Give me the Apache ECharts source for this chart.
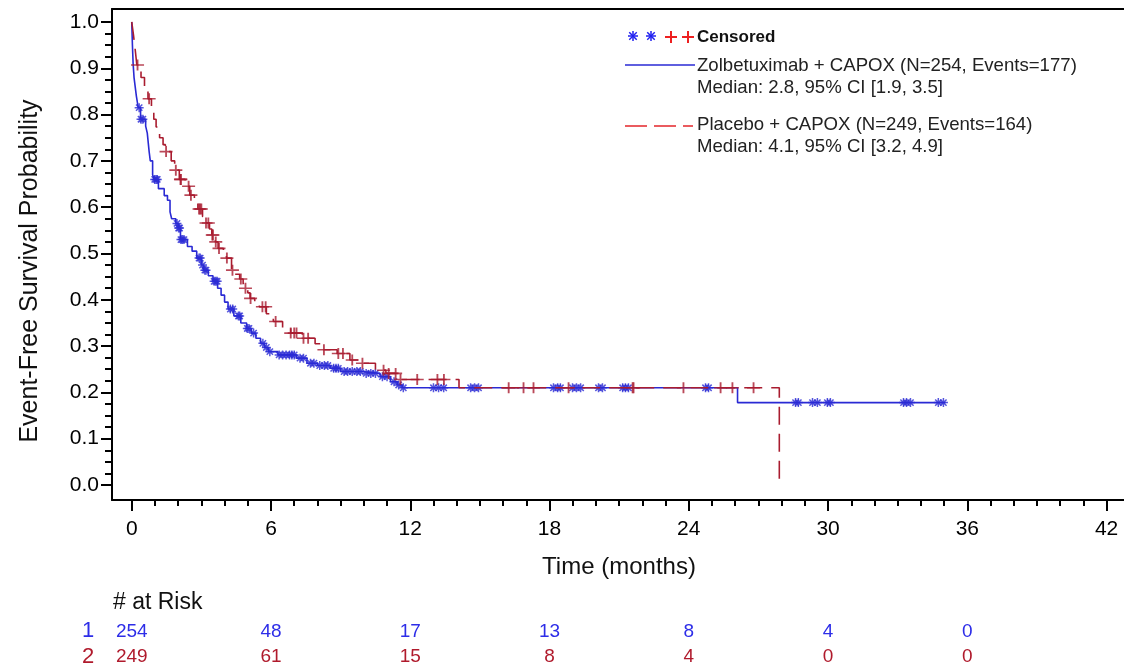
<!DOCTYPE html>
<html>
<head>
<meta charset="utf-8">
<script src="https://cdn.jsdelivr.net/npm/echarts@6/dist/echarts.min.js"></script>
<style>
html,body{margin:0;padding:0;background:#fff;}
#chart{width:1124px;height:665px;}
</style>
</head>
<body>
<div id="chart"></div>
<script>
// ---------- DATA ----------
// Kaplan-Meier step points: time (months) and survival after the step
const zolTimes = [0,0.03,0.06,0.1,0.15,0.2,0.28,0.38,0.6,0.67,0.75,0.8,0.9,0.97,1.15,1.4,1.54,1.65,1.72,1.9,2.0,2.1,2.4,2.6,2.8,3.0,3.1,3.3,3.5,3.7,3.85,4.0,4.15,4.4,4.7,4.95,5.15,5.35,5.55,5.72,5.88,6.3,7.1,7.55,8.0,8.55,9.0,9.9,10.7,11.15,11.45,11.65,26.1,35.05];
const zolSurv  = [1.0,0.95,0.91,0.88,0.86,0.84,0.815,0.79,0.775,0.76,0.72,0.70,0.67,0.66,0.64,0.625,0.615,0.59,0.575,0.565,0.555,0.53,0.515,0.505,0.49,0.475,0.464,0.452,0.44,0.425,0.41,0.395,0.38,0.365,0.35,0.338,0.328,0.317,0.306,0.297,0.288,0.281,0.274,0.263,0.258,0.252,0.245,0.241,0.234,0.223,0.216,0.21,0.178,0.178];

const plaTimes = [0,0.08,0.15,0.22,0.4,0.55,0.7,0.85,0.95,1.05,1.2,1.35,1.45,1.7,1.85,2.05,2.3,2.5,2.7,2.85,3.05,3.15,3.35,3.45,3.6,3.72,3.95,4.08,4.3,4.45,4.65,4.8,4.88,5.0,5.1,5.3,5.5,5.8,6.1,6.5,6.85,7.35,7.9,8.2,8.85,9.4,9.8,10.5,10.95,11.5,14.1,27.9];
const plaSurv  = [1.0,0.97,0.94,0.907,0.88,0.857,0.834,0.81,0.79,0.773,0.75,0.735,0.72,0.70,0.68,0.66,0.645,0.626,0.61,0.596,0.58,0.566,0.553,0.54,0.525,0.511,0.50,0.49,0.464,0.455,0.445,0.435,0.425,0.415,0.403,0.395,0.385,0.37,0.353,0.34,0.328,0.317,0.305,0.292,0.284,0.27,0.263,0.248,0.241,0.228,0.21,0.0];

// Censoring times (months)
const zolCensor = [0.32,0.4,0.48,0.99,1.05,1.1,1.95,2.02,2.06,2.12,2.18,2.25,2.9,2.95,3.05,3.15,3.2,3.55,3.62,3.68,4.25,4.35,4.6,4.65,4.98,5.05,5.25,5.65,5.8,5.95,6.35,6.5,6.65,6.8,6.9,7.0,7.25,7.4,7.7,7.85,8.1,8.3,8.45,8.7,8.8,8.9,9.15,9.3,9.5,9.7,9.85,10.1,10.3,10.5,10.8,11.0,11.3,11.5,11.7,13.0,13.22,13.44,14.6,14.77,14.94,18.17,18.35,18.47,18.99,19.16,19.34,20.11,20.28,21.15,21.27,21.4,24.72,24.85,28.6,28.72,29.33,29.54,29.97,30.1,33.25,33.38,33.55,34.75,34.97];
const plaCensor = [0.25,0.75,1.48,1.9,2.1,2.12,2.45,2.55,2.9,2.95,3.0,3.2,3.3,3.47,3.5,3.62,3.76,4.1,4.34,4.7,4.9,5.12,5.63,5.77,6.2,6.85,7.0,7.1,7.4,7.6,8.28,8.9,9.1,9.5,9.94,10.85,11.07,11.37,11.58,12.3,13.17,13.45,16.24,16.88,17.31,18.82,21.58,21.62,23.77,25.37,25.88,26.79];

// Numbers at risk
const riskTimes = [0,6,12,18,24,30,36];
const riskZol   = [254,48,17,13,8,4,0];
const riskPla   = [249,61,15,8,4,0,0];

// Axis ticks
const xTicks = [0,6,12,18,24,30,36,42];
const yTicks = [0,0.1,0.2,0.3,0.4,0.5,0.6,0.7,0.8,0.9,1.0];

// ---------- helpers ----------
function survAt(times, surv, t){
  let s = surv[0];
  for (let i=0;i<times.length;i++){ if (times[i] <= t) s = surv[i]; }
  return s;
}
const xMinor = []; for (let m=0;m<=42;m++) if (m%6!==0) xMinor.push(m);
const yMinor = []; for (let k=0;k<=40;k++) if (k%4!==0) yMinor.push(+(k*0.025).toFixed(3));

const BLUE = '#2a2ad4', RED = '#a91c2f';
const RISK_BLUE = '#2d2de8', RISK_RED = '#b01a2c';
const FONT = 'Liberation Sans, Arial, sans-serif';
const PLUS = 'path://M-1,0L1,0M0,-1L0,1';
const STAR = 'path://M-1,0L1,0M0,-1L0,1M-0.7,-0.7L0.7,0.7M-0.7,0.7L0.7,-0.7';

const X_MIN = -0.85, X_MAX = 42.75, Y_MIN = -0.0324, Y_MAX = 1.028;

function lineEl(x1,y1,x2,y2,color,w,dash){
  return {type:'line', silent:true, shape:{x1,y1,x2,y2}, style:{stroke:color, lineWidth:w||1.5, lineDash:dash||null}};
}
function plusEl(cx,cy,r,color){
  return [lineEl(cx-r,cy,cx+r,cy,color,2), lineEl(cx,cy-r,cx,cy+r,color,2)];
}
function starEl(cx,cy,r,color){
  const d=r*0.75;
  return [lineEl(cx-r,cy,cx+r,cy,color,1.5), lineEl(cx,cy-r,cx,cy+r,color,1.5),
          lineEl(cx-d,cy-d,cx+d,cy+d,color,1.5), lineEl(cx-d,cy+d,cx+d,cy-d,color,1.5)];
}
function textEl(x,y,text,opt){
  opt = opt||{};
  return {type:'text', silent:true, x:x, y:y, rotation:opt.rotation||0,
    style:{text:text, fill:opt.color||'#111', font:(opt.weight||'normal')+' '+(opt.size||19)+'px '+FONT,
      textAlign:opt.align||'left', textVerticalAlign:'middle', align:opt.align||'left', verticalAlign:'middle'}};
}

const legendEls = [].concat(
  starEl(633,36,5,'#2020f0'), starEl(651,36,5,'#2020f0'),
  plusEl(671,37,6,'#ee2020'), plusEl(688,37,6,'#ee2020'),
  [textEl(697,37,'Censored',{weight:'bold',size:17})],
  [lineEl(625,65,695,65,BLUE,1.5)],
  [textEl(697,66,'Zolbetuximab + CAPOX (N=254, Events=177)',{size:18.6,color:'#222'})],
  [textEl(697,88,'Median: 2.8, 95% CI [1.9, 3.5]',{size:18.6,color:'#222'})],
  [lineEl(625,126,693,126,'#e4262b',1.5,[22,7])],
  [textEl(697,125,'Placebo + CAPOX (N=249, Events=164)',{size:18.6,color:'#222'})],
  [textEl(697,147,'Median: 4.1, 95% CI [3.2, 4.9]',{size:18.6,color:'#222'})],
  [textEl(30,271,'Event-Free Survival Probability',{size:25,align:'center',rotation:Math.PI/2})],
  [textEl(619,567,'Time (months)',{size:24,align:'center'})],
  [textEl(113,603,'# at Risk',{size:23})],
  [textEl(88,631,'1',{size:22,color:RISK_BLUE,align:'center'})],
  [textEl(88,657,'2',{size:22,color:RISK_RED,align:'center'})]
);

const chart = echarts.init(document.getElementById('chart'), null, {renderer:'canvas'});
const axisBlack = {color:'#000', width:2};

const riskLabel = (color)=>({show:true, position:'inside', formatter:p=>String(p.value[2]),
  fontSize:19, fontFamily:FONT, color:color, textBorderWidth:0, textBorderColor:'transparent', opacity:1});

const option = {
  animation:false,
  backgroundColor:'#fff',
  grid:[
    {left:112, right:0, top:9, bottom:165, containLabel:false},
    {left:112, right:0, top:605, bottom:0, containLabel:false}
  ],
  xAxis:[
    {type:'value', gridIndex:0, min:X_MIN, max:X_MAX, position:'bottom',
     axisLine:{show:true, onZero:false, lineStyle:axisBlack},
     axisTick:{show:true, customValues:xTicks, length:11, lineStyle:axisBlack},
     axisLabel:{show:true, customValues:xTicks, margin:19, fontSize:21, fontFamily:FONT, color:'#000'},
     splitLine:{show:false}},
    {type:'value', gridIndex:0, min:X_MIN, max:X_MAX, position:'bottom',
     axisLine:{show:false, onZero:false},
     axisTick:{show:true, customValues:xMinor, length:6, lineStyle:axisBlack},
     axisLabel:{show:false}, splitLine:{show:false}},
    {type:'value', gridIndex:0, min:X_MIN, max:X_MAX, position:'top',
     axisLine:{show:true, onZero:false, lineStyle:axisBlack},
     axisTick:{show:false}, axisLabel:{show:false}, splitLine:{show:false}},
    {type:'value', gridIndex:1, min:X_MIN, max:X_MAX, show:false}
  ],
  yAxis:[
    {type:'value', gridIndex:0, min:Y_MIN, max:Y_MAX, position:'left',
     axisLine:{show:true, onZero:false, lineStyle:axisBlack},
     axisTick:{show:true, customValues:yTicks, length:11, lineStyle:axisBlack},
     axisLabel:{show:true, customValues:yTicks, margin:13, fontSize:21, fontFamily:FONT, color:'#000',
       formatter:v=>Number(v).toFixed(1)},
     splitLine:{show:false}},
    {type:'value', gridIndex:0, min:Y_MIN, max:Y_MAX, position:'left',
     axisLine:{show:false, onZero:false},
     axisTick:{show:true, customValues:yMinor, length:7, lineStyle:axisBlack},
     axisLabel:{show:false}, splitLine:{show:false}},
    {type:'value', gridIndex:1, min:0.68, max:3.08, show:false}
  ],
  series:[
    {type:'line', xAxisIndex:0, yAxisIndex:0, step:'end', showSymbol:false, symbol:'none',
     data:zolTimes.map((t,i)=>[t,zolSurv[i]]), lineStyle:{color:BLUE, width:1.6}, z:2},
    {type:'scatter', xAxisIndex:0, yAxisIndex:0, symbol:STAR, symbolSize:[9,9],
     data:zolCensor.map(t=>[t, survAt(zolTimes,zolSurv,t)]),
     itemStyle:{color:BLUE, borderColor:BLUE, borderWidth:1.5}, z:3},
    {type:'line', xAxisIndex:0, yAxisIndex:0, step:'end', showSymbol:false, symbol:'none',
     data:plaTimes.map((t,i)=>[t,plaSurv[i]]), lineStyle:{color:RED, width:1.6, type:[18,9]}, z:4},
    {type:'scatter', xAxisIndex:0, yAxisIndex:0, symbol:PLUS, symbolSize:[13,11],
     data:plaCensor.map(t=>[t, survAt(plaTimes,plaSurv,t)]),
     itemStyle:{color:RED, borderColor:RED, borderWidth:1.7}, z:5},
    {type:'scatter', xAxisIndex:3, yAxisIndex:2, symbolSize:0, itemStyle:{opacity:1},
     data:riskTimes.map((t,i)=>[t,2,riskZol[i]]), label:riskLabel(RISK_BLUE)},
    {type:'scatter', xAxisIndex:3, yAxisIndex:2, symbolSize:0, itemStyle:{opacity:1},
     data:riskTimes.map((t,i)=>[t,1,riskPla[i]]), label:riskLabel(RISK_RED)}
  ],
  graphic:legendEls
};
chart.setOption(option);
</script>
</body>
</html>
